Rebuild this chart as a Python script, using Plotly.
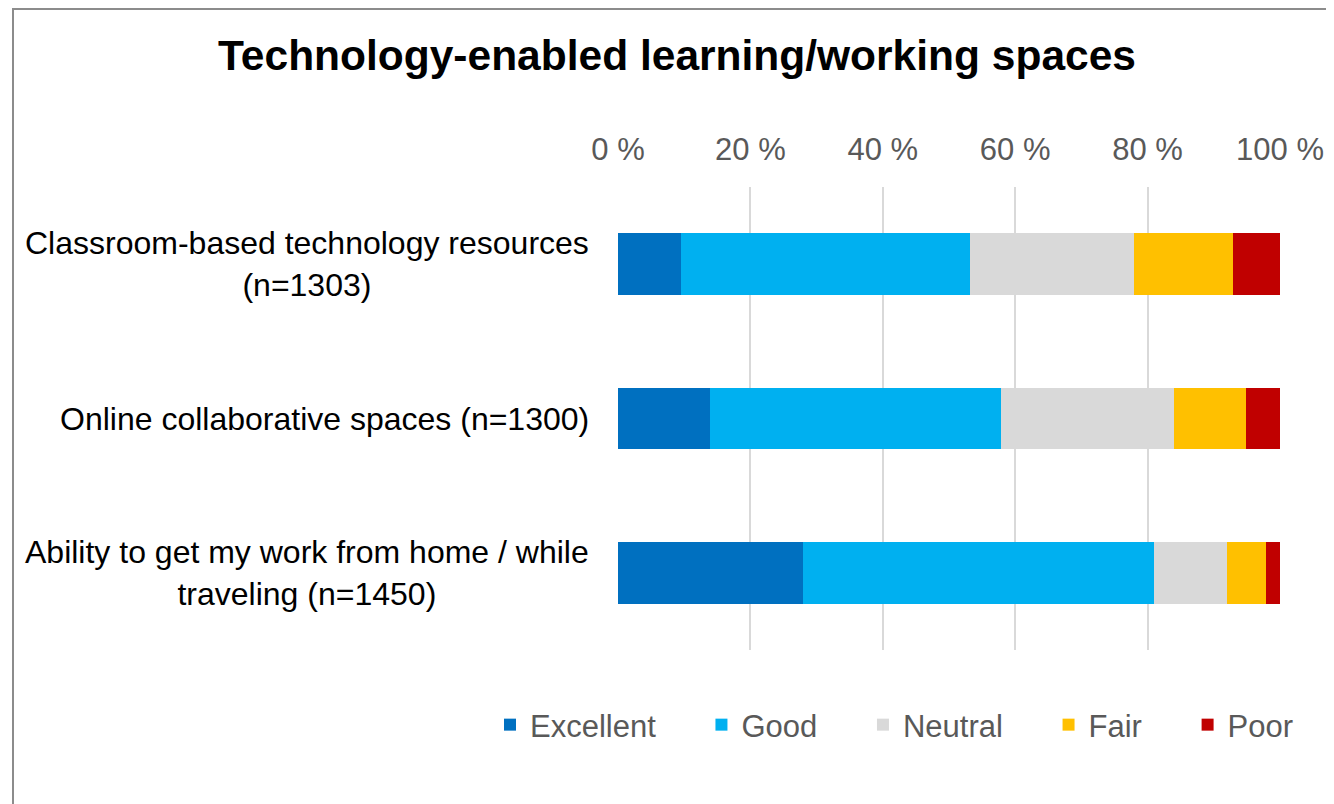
import plotly.graph_objects as go

# survey ratings, percent of respondents
categories = [
    "Classroom-based technology resources<br>(n=1303)",
    "Online collaborative spaces (n=1300)",
    "Ability to get my work from home / while<br>traveling (n=1450)",
]
series_names = ["Excellent", "Good", "Neutral", "Fair", "Poor"]
excellent = [9.5, 13.9, 28.0]
good = [43.7, 44.0, 53.0]
neutral = [24.8, 26.1, 11.0]
fair = [14.9, 10.9, 5.9]
poor = [7.1, 5.1, 2.1]
tick_vals = [0, 20, 40, 60, 80, 100]
tick_text = ["0 %", "20 %", "40 %", "60 %", "80 %", "100 %"]

colors = ["#0070C0", "#00B0F0", "#D9D9D9", "#FFC000", "#C00000"]
values = [excellent, good, neutral, fair, poor]

FONT = "Arial, Liberation Sans, sans-serif"
GRAY = "#595959"
PAD = "\u00a0" * 4 + "\u2009"
OFF = 8  # page body margin in the browser

W, H = 1334, 804
PL, PR, PT, PB = 618 - OFF, 1280 - OFF, 187 - OFF, 650 - OFF  # plot box in figure px
pw, ph = PR - PL, PB - PT

fig = go.Figure()
for i, (name, vals, col) in enumerate(zip(series_names, values, colors)):
    # pad the legend text so the entries sit apart like the original
    label = name if i == len(series_names) - 1 else name + PAD
    fig.add_trace(go.Bar(
        y=categories,
        x=vals,
        name=label,
        orientation="h",
        marker=dict(color=col, line=dict(width=0)),
    ))

# category labels, centred multi-line like the original
for cat in categories:
    fig.add_annotation(
        x=0, xref="paper", xanchor="right", xshift=-27,
        y=cat, yref="y", yanchor="middle",
        text=cat, showarrow=False, align="center",
        font=dict(family=FONT, size=32, color="#000000"),
    )

# outer chart frame
fig.add_shape(
    type="rect", xref="paper", yref="paper",
    x0=(13 - OFF - PL) / pw, x1=(1345 - OFF - PL) / pw,
    y0=(PB - 815 + OFF) / ph, y1=(PB - 1) / ph,
    line=dict(color="#8C8C8C", width=2), fillcolor="rgba(0,0,0,0)",
    layer="below",
)

fig.update_layout(
    width=W,
    height=H,
    barmode="stack",
    bargap=0.6,
    plot_bgcolor="white",
    paper_bgcolor="white",
    margin=dict(l=PL, r=W - PR, t=PT, b=H - PB, autoexpand=False),
    title=dict(
        text="<b>Technology-enabled learning/working spaces</b>",
        x=(677 - OFF) / W, xanchor="center", xref="container",
        y=1 - (55 - OFF) / H, yanchor="middle", yref="container",
        font=dict(family=FONT, size=42.5, color="#000000"),
    ),
    xaxis=dict(
        side="top",
        range=[0, 100],
        tickvals=tick_vals,
        ticktext=tick_text,
        tickfont=dict(family=FONT, size=31, color=GRAY),
        ticklabelstandoff=20,
        showgrid=True,
        gridcolor="#D9D9D9",
        gridwidth=2,
        zeroline=False,
        showline=False,
        fixedrange=True,
    ),
    yaxis=dict(
        categoryorder="array",
        categoryarray=categories,
        autorange="reversed",
        showticklabels=False,
        showgrid=False,
        zeroline=False,
        showline=False,
    ),
    legend=dict(
        orientation="h",
        x=(490 - OFF - PL) / pw, xanchor="left", xref="paper",
        y=(PB - (725 - OFF)) / ph, yanchor="middle", yref="paper",
        font=dict(family=FONT, size=31, color=GRAY),
        traceorder="normal",
        bgcolor="rgba(0,0,0,0)",
    ),
    showlegend=True,
)

fig.write_html("out.html")
